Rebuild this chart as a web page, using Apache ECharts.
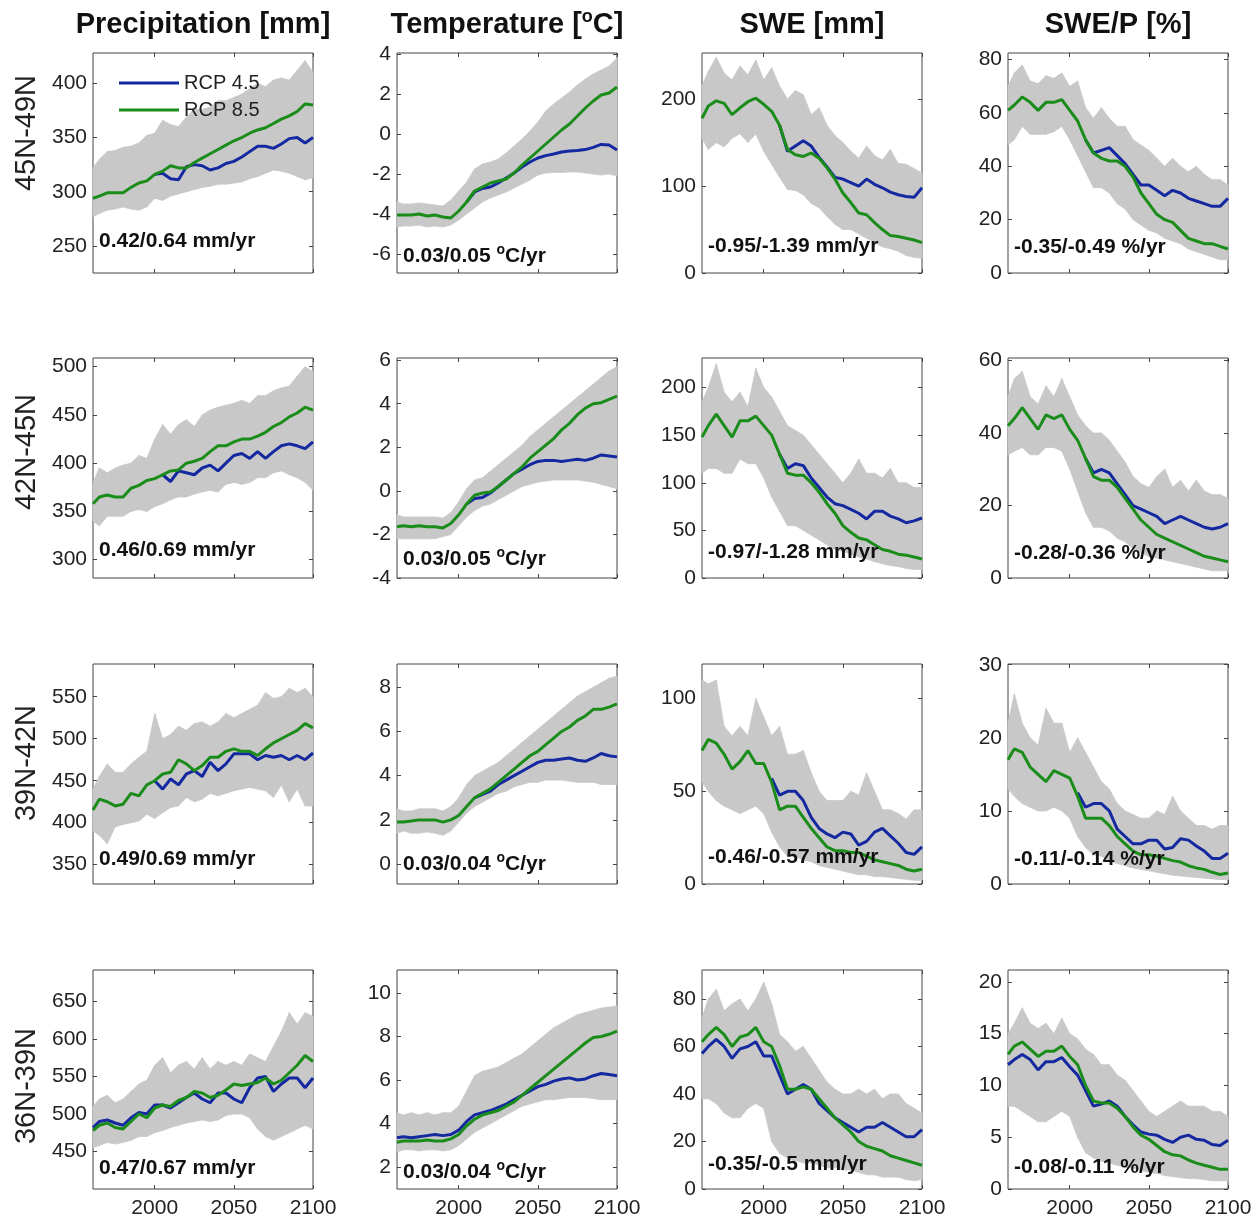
<!DOCTYPE html>
<html>
<head>
    <meta charset="utf-8">
    <title>RCP 4.5 / 8.5 projections by latitude band</title>
    <script src="https://cdn.jsdelivr.net/npm/echarts@6.0.0/dist/echarts.min.js"></script>
    <style>html,body{margin:0;padding:0;background:#fff;}</style>
</head>
<body>
<div id="main" style="width:1258px;height:1219px;"></div>

<script type="text/javascript">
// years
var years = [1961,1965,1970,1975,1980,1985,1990,1995,2000,2005,2010,2015,2020,2025,2030,2035,2040,2045,2050,2055,2060,2065,2070,2075,2080,2085,2090,2095,2100];
var xTicks = [2000, 2050, 2100];

var columnTitles = ['Precipitation [mm]', 'Temperature [{s|o}C]', 'SWE [mm]', 'SWE/P [%]'];
var rowLabels = ['45N-49N', '42N-45N', '39N-42N', '36N-39N'];
var legendNames = ['RCP 4.5', 'RCP 8.5'];

// ---- 45N-49N ----
var pr1_g  = [294,296,299,299,299,304,308,310,316,319,324,322,322,327,331,335,339,343,347,350,354,357,359,363,367,370,374,381,380];
var pr1_b  = [null,null,null,null,null,null,null,null,316,317,312,311,323,325,324,320,322,326,328,332,337,342,342,340,344,349,350,345,350];
var pr1_hi = [322,330,337,338,341,342,345,352,354,366,362,360,369,376,376,378,384,384,387,390,395,400,397,403,405,403,412,421,410];
var pr1_lo = [277,280,283,284,286,284,283,286,294,292,296,298,300,302,304,305,307,307,308,309,312,314,317,320,319,317,314,311,313];

var tm1_g  = [-4.05,-4.05,-4.05,-4.0,-4.1,-4.05,-4.15,-4.2,-3.85,-3.4,-2.85,-2.65,-2.45,-2.35,-2.25,-1.95,-1.55,-1.2,-0.85,-0.5,-0.15,0.2,0.5,0.9,1.3,1.65,1.95,2.05,2.35];
var tm1_b  = [null,null,null,null,null,null,null,null,null,-3.4,-2.9,-2.72,-2.65,-2.45,-2.2,-1.95,-1.65,-1.4,-1.2,-1.08,-1.0,-0.9,-0.85,-0.83,-0.78,-0.67,-0.52,-0.55,-0.8];
var tm1_hi = [-3.4,-3.5,-3.5,-3.45,-3.5,-3.55,-3.6,-3.3,-2.85,-2.4,-1.75,-1.5,-1.4,-1.25,-0.95,-0.6,-0.25,0.15,0.6,1.15,1.5,1.8,2.1,2.45,2.75,3.0,3.2,3.4,3.8];
var tm1_lo = [-4.65,-4.6,-4.6,-4.55,-4.65,-4.6,-4.65,-4.55,-4.3,-4.0,-3.7,-3.4,-3.2,-3.05,-2.9,-2.7,-2.5,-2.3,-2.05,-1.95,-1.92,-1.92,-1.9,-1.9,-1.95,-2.0,-2.05,-2.0,-2.1];

var sw1_g  = [178,192,198,195,182,190,197,201,194,186,170,142,136,134,138,132,121,108,92,81,69,67,58,50,43,42,40,38,35];
var sw1_b  = [null,null,null,null,null,null,null,null,null,null,170,140,146,152,146,133,122,110,108,104,100,108,102,98,93,90,88,87,98];
var sw1_hi = [215,232,248,230,222,238,228,245,222,236,215,200,210,205,182,190,170,158,150,140,132,146,135,130,142,126,125,120,115];
var sw1_lo = [155,142,150,145,155,160,150,160,140,125,110,96,95,90,80,75,65,56,50,50,45,40,35,30,28,25,20,18,17];

var sp1_g  = [61,63,66,64,61,64,64,65,61,57,50,45,43,42,42,40,36,30,26,22,20,19,16,13,12,11,11,10,9];
var sp1_b  = [null,null,null,null,null,null,null,null,null,null,50,45,46,47,44,41,37,33,33,31,29,31,30,28,27,26,25,25,28];
var sp1_hi = [70,75,78,72,71,74,73,75,70,72,62,58,62,58,55,55,50,48,46,43,40,43,40,38,40,37,35,35,33];
var sp1_lo = [48,50,55,52,52,52,53,55,50,44,38,32,32,30,26,24,20,18,16,15,13,12,11,9,8,7,6,5,5];

// ---- 42N-45N ----
var pr2_g  = [358,365,367,365,365,374,377,382,384,388,392,393,400,402,405,412,418,418,422,425,425,428,432,438,442,448,452,458,455];
var pr2_b  = [null,null,null,null,null,null,null,null,null,388,381,392,390,388,395,398,392,400,408,410,405,412,405,412,418,420,418,415,422];
var pr2_hi = [380,395,390,395,398,400,408,405,425,440,430,440,445,438,450,455,458,460,462,465,462,470,470,475,478,480,490,500,495];
var pr2_lo = [340,335,345,345,345,350,352,350,355,358,362,365,365,368,370,372,370,378,380,378,380,385,385,390,392,388,385,380,372];

var tm2_g  = [-1.65,-1.6,-1.65,-1.6,-1.65,-1.65,-1.7,-1.5,-1.1,-0.6,-0.2,-0.1,-0.05,0.2,0.5,0.8,1.1,1.5,1.8,2.1,2.4,2.8,3.1,3.5,3.8,4.0,4.05,4.2,4.35];
var tm2_b  = [null,null,null,null,null,null,null,null,null,-0.6,-0.35,-0.3,-0.1,0.2,0.5,0.8,1.0,1.2,1.35,1.4,1.4,1.35,1.4,1.45,1.4,1.5,1.65,1.6,1.55];
var tm2_hi = [-1.1,-1.2,-1.2,-1.2,-1.2,-1.2,-1.25,-1.0,-0.5,0.1,0.5,0.6,0.9,1.2,1.5,1.8,2.1,2.5,2.8,3.1,3.4,3.7,4.0,4.3,4.6,4.9,5.2,5.5,5.7];
var tm2_lo = [-2.2,-2.2,-2.2,-2.2,-2.2,-2.2,-2.1,-2.0,-1.6,-1.2,-0.9,-0.7,-0.6,-0.4,-0.2,0.0,0.2,0.3,0.4,0.45,0.5,0.5,0.5,0.5,0.45,0.4,0.3,0.2,0.1];

var sw2_g  = [148,160,172,160,148,165,165,170,160,150,130,110,108,108,100,90,78,68,55,48,42,40,35,30,28,25,24,22,20];
var sw2_b  = [null,null,null,null,null,null,null,null,null,null,130,115,120,118,105,95,85,78,76,72,68,62,70,70,65,62,58,60,63];
var sw2_hi = [185,200,225,195,185,195,180,220,200,190,175,160,155,150,140,130,120,110,100,110,125,110,110,105,115,100,100,95,95];
var sw2_lo = [110,115,115,110,110,125,120,120,105,85,70,55,55,50,45,40,35,30,28,25,22,20,17,15,13,12,10,9,9];

var sp2_g  = [42,44,47,44,41,45,44,45,41,38,33,28,27,27,25,22,19,16,14,12,11,10,9,8,7,6,5.5,5,4.5];
var sp2_b  = [null,null,null,null,null,null,null,null,null,null,33,29,30,29,26,23,20,19,18,17,15,16,17,16,15,14,13.5,14,15];
var sp2_hi = [50,55,57,50,48,53,50,55,50,45,42,40,40,38,35,32,28,26,25,28,30,25,27,24,27,24,23,23,22];
var sp2_lo = [34,35,36,34,34,36,36,35,30,24,18,14,14,13,11,10,8,7,6,5.5,5,4.5,4,3.5,3,2.5,2,2,2];

// ---- 39N-42N ----
var pr3_g  = [415,428,425,420,422,435,432,445,450,458,460,475,470,462,468,478,478,485,488,485,485,480,488,495,500,505,510,518,513];
var pr3_b  = [null,null,null,null,null,null,null,null,450,440,452,445,458,462,455,472,462,470,482,482,482,475,480,478,480,475,480,475,483];
var pr3_hi = [440,455,470,460,460,470,478,485,530,500,505,515,510,518,520,515,520,530,525,530,535,540,555,548,550,560,555,560,550];
var pr3_lo = [390,385,375,395,398,400,402,410,405,412,418,420,430,425,428,435,432,435,438,440,442,440,438,430,445,425,440,420,420];

var tm3_g  = [1.9,1.9,1.95,2.0,2.0,2.0,1.9,2.0,2.2,2.6,3.0,3.2,3.4,3.7,4.0,4.3,4.6,4.9,5.1,5.4,5.7,6.0,6.2,6.5,6.7,7.0,7.0,7.1,7.25];
var tm3_b  = [null,null,null,null,null,null,null,null,null,null,3.0,3.15,3.3,3.6,3.8,4.0,4.2,4.4,4.6,4.7,4.7,4.75,4.8,4.7,4.65,4.8,5.0,4.9,4.85];
var tm3_hi = [2.5,2.4,2.4,2.5,2.5,2.5,2.4,2.6,3.0,3.6,4.0,4.2,4.4,4.6,4.9,5.2,5.5,5.8,6.1,6.4,6.7,7.0,7.3,7.6,7.8,8.0,8.2,8.4,8.5];
var tm3_lo = [1.4,1.5,1.4,1.4,1.45,1.4,1.3,1.5,1.9,2.3,2.6,2.8,3.0,3.2,3.3,3.5,3.6,3.7,3.7,3.8,3.8,3.8,3.75,3.7,3.7,3.7,3.6,3.6,3.6];

var sw3_g  = [72,78,76,70,62,66,72,65,65,55,40,42,42,36,30,25,20,18,18,17,17,15,13,12,11,10,8,7,8];
var sw3_b  = [null,null,null,null,null,null,null,null,null,57,48,50,50,45,36,30,27,25,28,27,21,23,28,30,26,22,17,16,20];
var sw3_hi = [110,108,110,85,80,85,80,100,90,80,85,70,70,72,60,50,45,45,45,50,48,60,50,40,40,38,35,40,40];
var sw3_lo = [55,50,45,42,40,38,40,42,38,28,20,15,15,13,12,10,9,8,7,6,5,5,4,4,3.5,3,2.5,2,2];

var sp3_g  = [17,18.5,18,16,15,14,15.5,15,14.5,12,9,9,9,8,6.5,5.5,4.5,4,4,3.8,3.5,3.2,3,2.5,2.2,2,1.6,1.3,1.5];
var sp3_b  = [null,null,null,null,null,null,null,null,null,12.5,10.5,11,11,10,7.5,6.5,5.5,5.5,6,6,4.8,5,6.2,6,5.2,4.5,3.5,3.5,4.2];
var sp3_hi = [22,26,22,20,19,24,22,22,18,20,18,16,14,13,11,10,9.5,9,9,10,9.5,12,10,9,8,8,7.5,8,8];
var sp3_lo = [13,12,11,10.5,10,10,10.5,10,9,6.5,5,4,3.8,3.2,2.8,2.5,2.2,2,1.8,1.6,1.4,1.2,1.1,1,0.9,0.8,0.7,0.6,0.6];

// ---- 36N-39N ----
var pr4_g  = [478,485,488,482,480,490,500,495,508,512,510,518,522,530,528,522,525,532,540,538,540,542,548,540,545,555,565,578,570];
var pr4_b  = [482,490,492,488,485,495,502,500,512,512,508,515,522,528,520,515,528,528,520,515,535,548,550,530,540,548,548,535,548];
var pr4_hi = [510,520,525,515,520,530,540,545,565,575,555,565,570,560,575,560,570,565,570,565,580,575,570,590,610,635,620,635,630];
var pr4_lo = [455,458,462,460,462,465,470,470,475,478,482,485,488,490,492,490,492,498,500,500,495,480,470,465,470,475,480,485,480];

var tm4_g  = [3.15,3.2,3.2,3.2,3.25,3.2,3.2,3.3,3.5,3.9,4.2,4.4,4.5,4.6,4.8,5.0,5.3,5.6,5.9,6.2,6.5,6.8,7.1,7.4,7.7,7.95,8.0,8.1,8.25];
var tm4_b  = [3.35,3.4,3.35,3.4,3.45,3.5,3.45,3.5,3.7,4.1,4.4,4.5,4.6,4.75,4.9,5.1,5.3,5.5,5.7,5.8,5.95,6.05,6.1,6.0,6.05,6.2,6.3,6.25,6.2];
var tm4_hi = [4.5,4.4,4.5,4.4,4.5,4.4,4.5,4.5,4.8,5.5,6.2,6.4,6.5,6.6,6.8,7.0,7.2,7.5,7.8,8.1,8.4,8.6,8.8,9.0,9.1,9.2,9.3,9.35,9.4];
var tm4_lo = [2.7,2.8,2.8,2.75,2.8,2.8,2.75,2.8,3.0,3.3,3.6,3.8,4.0,4.2,4.4,4.6,4.8,4.9,5.0,5.1,5.1,5.15,5.2,5.2,5.2,5.15,5.1,5.1,5.1];

var sw4_g  = [62,65,68,65,60,64,65,68,62,60,52,42,42,43,42,38,34,30,27,24,20,18,17,16,14,13,12,11,10];
var sw4_b  = [57,60,63,60,55,59,60,62,56,56,48,40,42,44,42,36,33,30,28,26,24,26,26,28,26,24,22,22,25];
var sw4_hi = [72,80,84,75,78,80,75,80,87,78,65,62,58,60,55,50,45,42,40,40,42,40,42,38,40,40,36,34,32];
var sw4_lo = [38,38,36,32,30,30,34,36,34,20,15,13,12,11,11,10,9,9,8,8,7,6,6,5,5,5,4,3.5,4];

var sp4_g  = [13,13.8,14.2,13.5,12.8,13.3,13.3,13.8,12.8,12,10,8.5,8.3,8.3,7.8,7,6,5.2,4.8,4.2,3.6,3.3,3.2,2.8,2.5,2.3,2.1,1.9,1.9];
var sp4_b  = [12,12.5,13,12.5,11.5,12.3,12.3,12.7,11.8,11,9.5,8,8.2,8.5,8,7,6.2,5.5,5.3,5.2,4.8,4.5,5,5.2,4.8,4.7,4.3,4.2,4.7];
var sp4_hi = [15,16,17.5,16,15.5,16,15,16.5,15,14.5,13.5,13,12,12,11,10.5,9.5,8.5,7.5,7,7.5,8,8.5,8,8,8,7.5,7.5,7];
var sp4_lo = [8,8,7.5,7,6.5,6.5,7,7.5,7,5,3.5,3,2.7,2.5,2.3,2.1,2,1.8,1.6,1.5,1.3,1.2,1.1,1.0,1.0,0.9,0.8,0.8,0.8];

// y tick labels per panel (row by row)
var yTicks = [
    [250,300,350,400], [-6,-4,-2,0,2,4], [0,100,200], [0,20,40,60,80],
    [300,350,400,450,500], [-4,-2,0,2,4,6], [0,50,100,150,200], [0,20,40,60],
    [350,400,450,500,550], [0,2,4,6,8], [0,50,100], [0,10,20,30],
    [450,500,550,600,650], [2,4,6,8,10], [0,20,40,60,80], [0,5,10,15,20]
];
var trendNotes = [
    '0.42/0.64 mm/yr', '0.03/0.05 {s|o}C/yr', '-0.95/-1.39 mm/yr', '-0.35/-0.49 %/yr',
    '0.46/0.69 mm/yr', '0.03/0.05 {s|o}C/yr', '-0.97/-1.28 mm/yr', '-0.28/-0.36 %/yr',
    '0.49/0.69 mm/yr', '0.03/0.04 {s|o}C/yr', '-0.46/-0.57 mm/yr', '-0.11/-0.14 %/yr',
    '0.47/0.67 mm/yr', '0.03/0.04 {s|o}C/yr', '-0.35/-0.5 mm/yr', '-0.08/-0.11 %/yr'
];

var panels = [
    {lo: pr1_lo, hi: pr1_hi, b: pr1_b, g: pr1_g, min: 225, max: 428},
    {lo: tm1_lo, hi: tm1_hi, b: tm1_b, g: tm1_g, min: -6.95, max: 4.05},
    {lo: sw1_lo, hi: sw1_hi, b: sw1_b, g: sw1_g, min: 0, max: 253},
    {lo: sp1_lo, hi: sp1_hi, b: sp1_b, g: sp1_g, min: 0, max: 82.5},
    {lo: pr2_lo, hi: pr2_hi, b: pr2_b, g: pr2_g, min: 281, max: 509},
    {lo: tm2_lo, hi: tm2_hi, b: tm2_b, g: tm2_g, min: -4, max: 6.1},
    {lo: sw2_lo, hi: sw2_hi, b: sw2_b, g: sw2_g, min: 0, max: 231},
    {lo: sp2_lo, hi: sp2_hi, b: sp2_b, g: sp2_g, min: 0, max: 60.7},
    {lo: pr3_lo, hi: pr3_hi, b: pr3_b, g: pr3_g, min: 327, max: 589},
    {lo: tm3_lo, hi: tm3_hi, b: tm3_b, g: tm3_g, min: -0.9, max: 9.05},
    {lo: sw3_lo, hi: sw3_hi, b: sw3_b, g: sw3_g, min: 0, max: 118.7},
    {lo: sp3_lo, hi: sp3_hi, b: sp3_b, g: sp3_g, min: 0, max: 30.1},
    {lo: pr4_lo, hi: pr4_hi, b: pr4_b, g: pr4_g, min: 400, max: 692},
    {lo: tm4_lo, hi: tm4_hi, b: tm4_b, g: tm4_g, min: 1.0, max: 11.05},
    {lo: sw4_lo, hi: sw4_hi, b: sw4_b, g: sw4_g, min: 0, max: 92.2},
    {lo: sp4_lo, hi: sp4_hi, b: sp4_b, g: sp4_g, min: 0, max: 21.15}
];

// layout
var colLeft = [93, 397, 702, 1008];
var rowTop = [53, 358, 664, 970];
var boxW = 220, boxH = 220;
var rowLabelY = [133, 452, 763, 1086];
var noteDy = [32, 17, 27, 26, 28, 19, 26, 25, 25, 20, 27, 25, 22, 18, 26, 23];
var FONT = "'Liberation Sans', Arial, Helvetica, sans-serif";
var BLUE = '#1428a0', GREEN = '#1a8c1a', BAND = '#c8c8c8';

function pairs(vals) {
    var out = [];
    for (var k = 0; k < years.length; k++) out.push([years[k], vals[k]]);
    return out;
}
// one item per segment: [x0, lo0, hi0, x1, lo1, hi1]
function bandSegments(lo, hi) {
    var out = [];
    for (var k = 0; k < years.length - 1; k++) {
        out.push([years[k], lo[k], hi[k], years[k + 1], lo[k + 1], hi[k + 1]]);
    }
    return out;
}
function renderBand(params, api) {
    var a = api.coord([api.value(0), api.value(1)]);
    var b = api.coord([api.value(0), api.value(2)]);
    var c = api.coord([api.value(3), api.value(5)]);
    var d = api.coord([api.value(3), api.value(4)]);
    return {
        type: 'polygon',
        shape: {points: [a, b, c, d]},
        style: {fill: BAND, stroke: BAND, lineWidth: 0.8}
    };
}
function yearLabel(v) { return String(v); }

var myChart = echarts.init(document.getElementById('main'));

var option = {
    animation: false,
    backgroundColor: '#fff',
    legend: {
        data: legendNames,
        orient: 'vertical',
        left: 114, top: 68,
        itemWidth: 60, itemHeight: 3, itemGap: 7,
        icon: 'rect',
        selectedMode: false,
        textStyle: {fontSize: 20, color: '#222', fontFamily: FONT}
    },
    grid: [], xAxis: [], yAxis: [], series: [], graphic: []
};

for (var i = 0; i < panels.length; i++) {
    var p = panels[i];
    var r = Math.floor(i / 4), c = i % 4;
    option.grid.push({
        left: colLeft[c], top: rowTop[r], width: boxW, height: boxH,
        show: true, borderColor: '#444', borderWidth: 1, backgroundColor: '#fff'
    });
    var tickStyle = {inside: true, length: 4, lineStyle: {color: '#444'}};
    var noLine = {show: false, onZero: false};
    option.xAxis.push({
        gridIndex: i, type: 'value', min: 1961, max: 2100, position: 'bottom',
        axisLine: noLine, splitLine: {show: false},
        axisTick: Object.assign({customValues: xTicks}, tickStyle),
        axisLabel: {show: r === 3, customValues: xTicks, formatter: yearLabel,
            fontSize: 21, color: '#222', fontFamily: FONT, margin: 9}
    });
    option.xAxis.push({
        gridIndex: i, type: 'value', min: 1961, max: 2100, position: 'top',
        axisLine: noLine, splitLine: {show: false},
        axisTick: Object.assign({customValues: xTicks}, tickStyle),
        axisLabel: {show: false}
    });
    option.yAxis.push({
        gridIndex: i, type: 'value', min: p.min, max: p.max, position: 'left',
        axisLine: noLine, splitLine: {show: false},
        axisTick: Object.assign({customValues: yTicks[i]}, tickStyle),
        axisLabel: {customValues: yTicks[i], fontSize: 21, color: '#222', fontFamily: FONT, margin: 6}
    });
    option.yAxis.push({
        gridIndex: i, type: 'value', min: p.min, max: p.max, position: 'right',
        axisLine: noLine, splitLine: {show: false},
        axisTick: Object.assign({customValues: yTicks[i]}, tickStyle),
        axisLabel: {show: false}
    });

    var xi = 2 * i, yi = 2 * i;
    // grey spread between models
    option.series.push({
        type: 'custom', xAxisIndex: xi, yAxisIndex: yi, silent: true, z: 1,
        data: bandSegments(p.lo, p.hi), renderItem: renderBand,
        encode: {x: [0, 3], y: [1, 2, 4, 5]}
    });
    option.series.push({
        name: 'RCP 4.5', type: 'line', xAxisIndex: xi, yAxisIndex: yi, z: 3,
        data: pairs(p.b), symbol: 'none', silent: true,
        itemStyle: {color: BLUE}, lineStyle: {color: BLUE, width: 3}
    });
    option.series.push({
        name: 'RCP 8.5', type: 'line', xAxisIndex: xi, yAxisIndex: yi, z: 4,
        data: pairs(p.g), symbol: 'none', silent: true,
        itemStyle: {color: GREEN}, lineStyle: {color: GREEN, width: 3}
    });

    option.graphic.push({
        type: 'text', x: colLeft[c] + 6, y: rowTop[r] + boxH - noteDy[i], z: 100,
        style: {
            text: trendNotes[i], align: 'left', verticalAlign: 'middle',
            font: 'bold 21px ' + FONT, fill: '#111',
            rich: {s: {fontSize: 14, fontWeight: 'bold', fontFamily: FONT, fill: '#111', padding: [0, 0, 11, 0]}}
        }
    });
}

for (var c2 = 0; c2 < 4; c2++) {
    option.graphic.push({
        type: 'text', x: colLeft[c2] + boxW / 2, y: 25,
        style: {
            text: columnTitles[c2], align: 'center', verticalAlign: 'middle',
            font: 'bold 29px ' + FONT, fill: '#111',
            rich: {s: {fontSize: 18, fontWeight: 'bold', fontFamily: FONT, fill: '#111', padding: [0, 0, 15, 0]}}
        }
    });
}
for (var r2 = 0; r2 < 4; r2++) {
    option.graphic.push({
        type: 'text', x: 27, y: rowLabelY[r2], rotation: Math.PI / 2,
        style: {
            text: rowLabels[r2], align: 'center', verticalAlign: 'middle',
            font: '29px ' + FONT, fill: '#222'
        }
    });
}

myChart.setOption(option);
</script>
</body>
</html>
